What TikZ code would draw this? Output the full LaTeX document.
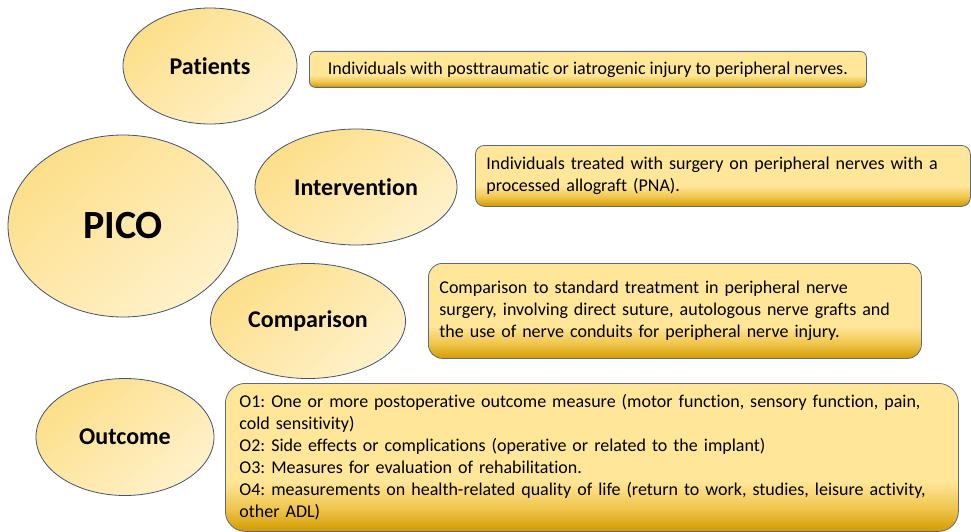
\documentclass[tikz,border=0pt]{standalone}
\usepackage{fontspec}
\setmainfont{Carlito}[Ligatures=NoCommon]
\usetikzlibrary{shapes.geometric}

\definecolor{ellipseTop}{HTML}{FDDF8A}
\definecolor{ellipseBottom}{HTML}{FFF1CA}
\definecolor{ellipseLine}{HTML}{41536F}
\definecolor{boxLight}{HTML}{FFE699}
\definecolor{boxMid}{HTML}{F0C64E}
\definecolor{boxDark}{HTML}{D29B00}
\definecolor{boxLine}{HTML}{5B6A7E}

% 方框的渐变：底部为深金色
\pgfdeclareverticalshading{goldbox}{100bp}{color(0bp)=(boxDark); color(25bp)=(boxDark); color(33bp)=(boxMid); color(42bp)=(boxLight); color(100bp)=(boxLight)}

\begin{document}
\frenchspacing
\begin{tikzpicture}[x=1pt,y=-1pt,
    oval/.style={ellipse, draw=ellipseLine, line width=0.8pt, top color=ellipseTop, bottom color=ellipseBottom, shading angle=40, inner sep=0pt, font=\bfseries\fontsize{24}{29}\selectfont},
    infobox/.style={anchor=north west, draw=boxLine, line width=0.8pt, shade, shading=goldbox, align=left, inner sep=0pt, font=\fontsize{18}{22}\selectfont}]
    \useasboundingbox (0,0) rectangle (971,532);

    % 绘制左侧的椭圆
    \node[oval, minimum width=230pt, minimum height=182pt, font=\bfseries\fontsize{40}{48}\selectfont] (pico) at (123,226) {PICO};
    \node[oval, minimum width=174pt, minimum height=116pt] (patients) at (210,66) {Patients};
    \node[oval, minimum width=202pt, minimum height=116pt] (intervention) at (356,187) {Intervention};
    \node[oval, minimum width=195pt, minimum height=115pt] (comparison) at (308,321) {Comparison};
    \node[oval, minimum width=178pt, minimum height=117pt] (outcome) at (125,437) {Outcome};

    % 绘制右侧的说明方框
    \node[infobox, minimum width=557pt, minimum height=36pt, rounded corners=6pt] (patientsBox) at (309,51)
        {Individuals with posttraumatic or iatrogenic injury to peripheral nerves.};
    \node[infobox, minimum width=495pt, minimum height=61pt, text width=473pt, rounded corners=9pt] (interventionBox) at (475,145)
        {Individuals treated with surgery on peripheral nerves with a\\ processed allograft (PNA).};
    \node[infobox, minimum width=493pt, minimum height=95pt, text width=471pt, rounded corners=14pt] (comparisonBox) at (428,263)
        {Comparison to standard treatment in peripheral nerve\\ surgery, involving direct suture, autologous nerve grafts and\\ the use of nerve conduits for peripheral nerve injury.};
    \node[infobox, minimum width=733pt, minimum height=148pt, text width=705pt, rounded corners=20pt] (outcomeBox) at (225,383)
        {O1: One or more postoperative outcome measure (motor function, sensory function, pain,\\ cold sensitivity)\\ O2: Side effects or complications (operative or related to the implant)\\ O3: Measures for evaluation of rehabilitation.\\ O4: measurements on health-related quality of life (return to work, studies, leisure activity,\\ other ADL)};
\end{tikzpicture}
\end{document}
